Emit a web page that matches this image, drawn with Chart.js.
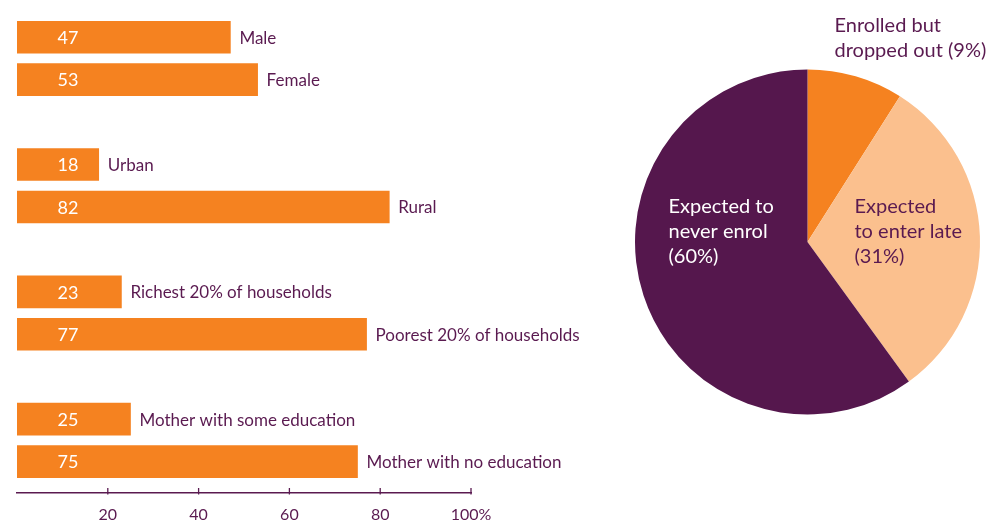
<!DOCTYPE html>
<html><head><meta charset="utf-8">
<script src="https://cdn.jsdelivr.net/npm/chart.js@4/dist/chart.umd.min.js"></script>
<style>
html,body{margin:0;padding:0;background:#fff;width:993px;height:522px;overflow:hidden}
#bw{position:absolute;left:0;top:0;width:620px;height:522px}
#pw{position:absolute;left:600px;top:0;width:393px;height:522px}
</style></head><body>
<div id="bw"><canvas id="bar"></canvas></div>
<div id="pw"><canvas id="pie"></canvas></div>
<script>
const barCategories = ['Male','Female','','Urban','Rural','','Richest 20% of households','Poorest 20% of households','','Mother with some education','Mother with no education'];
const barValues = [47,53,null,18,82,null,23,77,null,25,75];
const axisTicks = [20,40,60,80,100];
const pieCategories = [['Enrolled but','dropped out (9%)'],['Expected','to enter late','(31%)'],['Expected to','never enrol','(60%)']];
const pieValues = [9,31,60];

const ORANGE = '#f58220', LIGHT = '#fbc08e', PURPLE = '#55174d', TEXT = '#5a1a50';
const FONT = 'Lato';

const barLabels = {
  id: 'barLabels',
  afterDatasetsDraw(chart) {
    const ctx = chart.ctx, meta = chart.getDatasetMeta(0);
    ctx.save();
    ctx.textBaseline = 'middle';
    meta.data.forEach((el, i) => {
      const v = barValues[i];
      if (v == null) return;
      ctx.font = '18px ' + FONT;
      ctx.fillStyle = '#fff'; ctx.textAlign = 'center';
      ctx.fillText(String(v), el.base + 51, el.y + 1);
      ctx.font = '17px ' + FONT;
      ctx.fillStyle = TEXT; ctx.textAlign = 'left';
      ctx.fillText(barCategories[i], el.x + 9, el.y + 1);
    });
    const xs = chart.scales.x, yb = chart.chartArea.bottom;
    ctx.strokeStyle = TEXT; ctx.lineWidth = 1.3;
    xs.ticks.forEach(t => {
      const px = xs.getPixelForValue(t.value);
      ctx.beginPath(); ctx.moveTo(px, yb - 5); ctx.lineTo(px, yb + 1.5); ctx.stroke();
    });
    ctx.restore();
  }
};

new Chart(document.getElementById('bar'), {
  type: 'bar',
  data: { labels: barCategories, datasets: [{ data: barValues, backgroundColor: ORANGE, barThickness: 32, borderWidth: 0 }] },
  plugins: [barLabels],
  options: {
    indexAxis: 'y', responsive: true, maintainAspectRatio: false, animation: false,
    layout: { padding: { left: 17, right: 149, top: 16, bottom: 0 } },
    plugins: { legend: { display: false }, tooltip: { enabled: false } },
    scales: {
      y: { display: false, afterBuildTicks(s) { s._valueRange += 0.24; } },
      x: {
        min: 0, max: 100,
        afterBuildTicks(s) { s.ticks = axisTicks.map(v => ({ value: v })); },
        grid: { display: false, drawTicks: false },
        border: { display: true, color: TEXT, width: 1.5 },
        ticks: { color: TEXT, font: { family: FONT, size: 16 }, padding: 12, callback: v => v === 100 ? '100%' : String(v) },
        afterFit(s) { s.height = 29; }
      }
    }
  }
});

const pieLabels = {
  id: 'pieLabels',
  afterDatasetsDraw(chart) {
    const ctx = chart.ctx, arc = chart.getDatasetMeta(0).data[0];
    const cx = arc.x, cy = arc.y, r = arc.outerRadius;
    ctx.save();
    ctx.font = '20px ' + FONT;
    ctx.textBaseline = 'alphabetic'; ctx.textAlign = 'left';
    const draw = (lines, x, y, color) => {
      ctx.fillStyle = color;
      lines.forEach((l, k) => ctx.fillText(l, x, y + k * 25));
    };
    draw(pieCategories[0], cx + 27, cy - r - 38, TEXT);
    draw(pieCategories[1], cx + 47, cy - 29, TEXT);
    draw(pieCategories[2], cx - 139, cy - 29, '#fff');
    ctx.restore();
  }
};

new Chart(document.getElementById('pie'), {
  type: 'pie',
  data: { labels: pieCategories.map(l => l.join(' ')), datasets: [{ data: pieValues, backgroundColor: [ORANGE, LIGHT, PURPLE], borderWidth: 0 }] },
  plugins: [pieLabels],
  options: {
    responsive: true, maintainAspectRatio: false, animation: false,
    layout: { padding: { left: 35, right: 13, top: 69.5, bottom: 107.5 } },
    plugins: { legend: { display: false }, tooltip: { enabled: false } }
  }
});
</script>
</body></html>
